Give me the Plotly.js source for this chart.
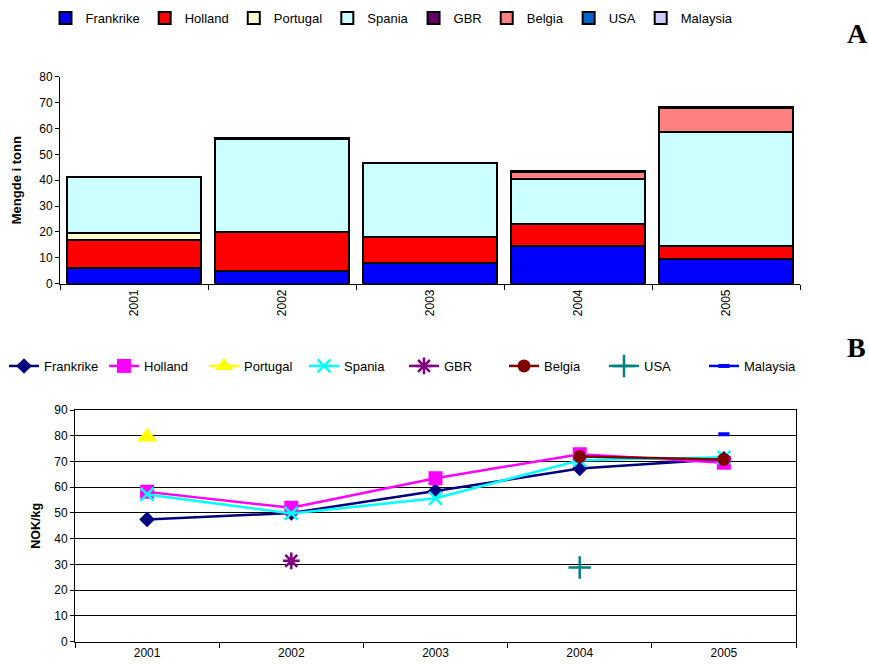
<!DOCTYPE html>
<html>
<head>
<meta charset="utf-8">
<script src="https://cdn.plot.ly/plotly-3.0.1.min.js"></script>
<style>
  html, body { margin: 0; padding: 0; background: #ffffff; }
  #chart { width: 869px; height: 666px; }
</style>
</head>
<body>
<div id="chart"></div>
<script>
// Years shown on both panels
const years = ['2001', '2002', '2003', '2004', '2005'];
const countries = ['Frankrike', 'Holland', 'Portugal', 'Spania', 'GBR', 'Belgia', 'USA', 'Malaysia'];

// Panel A: quantity per country (tonn), stacked
const qtyFrankrike = [6.1, 4.8, 8.1, 14.4, 9.7];
const qtyHolland   = [10.9, 15.1, 9.8, 8.7, 5.0];
const qtyPortugal  = [2.6, null, null, null, null];
const qtySpania    = [21.6, 36.0, 28.7, 17.4, 43.8];
const qtyGBR       = [null, 0.4, null, null, null];
const qtyBelgia    = [null, null, null, 2.8, 9.3];
const qtyUSA       = [null, null, null, 0.4, null];
const qtyMalaysia  = [null, null, null, null, 0.5];

// Panel B: price per country (NOK/kg)
const priceFrankrike = [47.5, 50.0, 58.5, 67.3, 71.0];
const priceHolland   = [58.2, 52.0, 63.5, 72.8, 69.5];
const pricePortugal  = [79.5, null, null, null, null];
const priceSpania    = [57.2, 49.8, 55.7, 70.5, 71.6];
const priceGBR       = [null, 31.4, null, null, null];
const priceBelgia    = [null, null, null, 71.9, 70.8];
const priceUSA       = [null, null, null, 28.8, null];
const priceMalaysia  = [null, null, null, null, 80.6];

const qtySeries = [qtyFrankrike, qtyHolland, qtyPortugal, qtySpania, qtyGBR, qtyBelgia, qtyUSA, qtyMalaysia];
const priceSeries = [priceFrankrike, priceHolland, pricePortugal, priceSpania, priceGBR, priceBelgia, priceUSA, priceMalaysia];

const barColors = ['#0000FF', '#FF0000', '#FFFFCC', '#CCFFFF', '#660066', '#FF8080', '#0066CC', '#CCCCFF'];
const lineColors = ['#000080', '#FF00FF', '#FFFF00', '#00FFFF', '#800080', '#800000', '#008080', '#0000FF'];
const symbols = ['diamond', 'square', 'triangle-up', 'x-thin', 'asterisk', 'circle', 'cross-thin', 'line-ew'];
const symSizes = [12, 14, 18, 13, 14, 13, 16, 8];
const openSymbols = ['x-thin', 'asterisk', 'cross-thin', 'line-ew'];

const W = 869, H = 666;
const px = v => v / W;
const py = v => 1 - v / H;

const FONT = 'Liberation Sans, Arial, sans-serif';

const traces = [];
countries.forEach((name, i) => {
  traces.push({
    type: 'bar',
    name: name,
    x: years,
    y: qtySeries[i],
    xaxis: 'x',
    yaxis: 'y',
    legend: 'legend',
    marker: { color: barColors[i], line: { color: '#000000', width: 2 } },
    hoverinfo: 'x+y+name'
  });
});
countries.forEach((name, i) => {
  const open = openSymbols.includes(symbols[i]);
  traces.push({
    type: 'scatter',
    mode: 'lines+markers',
    name: name,
    x: years,
    y: priceSeries[i],
    xaxis: 'x2',
    yaxis: 'y2',
    legend: 'legend2',
    connectgaps: false,
    line: { color: lineColors[i], width: 2.5 },
    marker: {
      symbol: symbols[i],
      size: symSizes[i],
      color: lineColors[i],
      line: open ? { color: lineColors[i], width: symbols[i] === 'line-ew' ? 4 : 2.5 } : { width: 0 }
    }
  });
});

const layout = {
  width: W,
  height: H,
  margin: { l: 0, r: 0, t: 0, b: 0, pad: 0 },
  paper_bgcolor: '#ffffff',
  plot_bgcolor: 'rgba(0,0,0,0)',
  font: { family: FONT, size: 12, color: '#000000' },
  barmode: 'stack',
  bargap: 0.09,
  showlegend: true,
  legend: {
    orientation: 'h',
    x: px(392), xanchor: 'center',
    y: py(18), yanchor: 'middle',
    traceorder: 'normal',
    font: { family: FONT, size: 13, color: '#000000' },
    bgcolor: 'rgba(0,0,0,0)',
    itemclick: false, itemdoubleclick: false
  },
  legend2: {
    orientation: 'h',
    x: px(4), xanchor: 'left',
    y: py(366), yanchor: 'middle',
    traceorder: 'normal',
    entrywidth: 55,
    entrywidthmode: 'pixels',
    font: { family: FONT, size: 13, color: '#000000' },
    bgcolor: 'rgba(0,0,0,0)',
    itemclick: false, itemdoubleclick: false
  },
  xaxis: {
    domain: [px(60), px(800)],
    anchor: 'y',
    type: 'category',
    categoryorder: 'array',
    categoryarray: years,
    range: [-0.5, 4.5],
    tickson: 'boundaries',
    ticks: 'outside', ticklen: 5, tickcolor: '#000000',
    showline: true, linecolor: '#000000', linewidth: 1,
    showgrid: false, zeroline: false,
    tickangle: -90,
    tickfont: { family: FONT, size: 12 }
  },
  yaxis: {
    domain: [py(283.7), py(76.7)],
    anchor: 'x',
    range: [0, 80],
    dtick: 10,
    ticks: 'outside', ticklen: 4, tickcolor: '#000000',
    showline: true, linecolor: '#000000', linewidth: 1,
    showgrid: false, zeroline: false,
    tickfont: { family: FONT, size: 12 },
    title: { text: '<b>Mengde i tonn</b>', font: { family: FONT, size: 13 }, standoff: 14 }
  },
  xaxis2: {
    domain: [px(75), px(796)],
    anchor: 'y2',
    type: 'category',
    categoryorder: 'array',
    categoryarray: years,
    range: [-0.5, 4.5],
    tickson: 'boundaries',
    ticks: 'outside', ticklen: 5, tickcolor: '#000000',
    showline: true, mirror: true, linecolor: '#000000', linewidth: 1,
    showgrid: false, zeroline: false,
    tickfont: { family: FONT, size: 12 }
  },
  yaxis2: {
    domain: [py(641.7), py(410)],
    anchor: 'x2',
    range: [0, 90],
    dtick: 10,
    ticks: 'outside', ticklen: 4, tickcolor: '#000000',
    showline: true, mirror: true, linecolor: '#000000', linewidth: 1,
    showgrid: true, gridcolor: '#000000', gridwidth: 1,
    zeroline: false,
    tickfont: { family: FONT, size: 12 },
    title: { text: '<b>NOK/kg</b>', font: { family: FONT, size: 12.5 }, standoff: 10 }
  },
  annotations: [
    { text: '<b>A</b>', xref: 'paper', yref: 'paper', x: px(857), y: py(34), xanchor: 'center', yanchor: 'middle',
      showarrow: false, font: { family: 'Liberation Serif, Times New Roman, serif', size: 28, color: '#000000' } },
    { text: '<b>B</b>', xref: 'paper', yref: 'paper', x: px(856), y: py(347), xanchor: 'center', yanchor: 'middle',
      showarrow: false, font: { family: 'Liberation Serif, Times New Roman, serif', size: 28, color: '#000000' } }
  ]
};

Plotly.newPlot('chart', traces, layout, { displayModeBar: false, staticPlot: true });
</script>
</body>
</html>
